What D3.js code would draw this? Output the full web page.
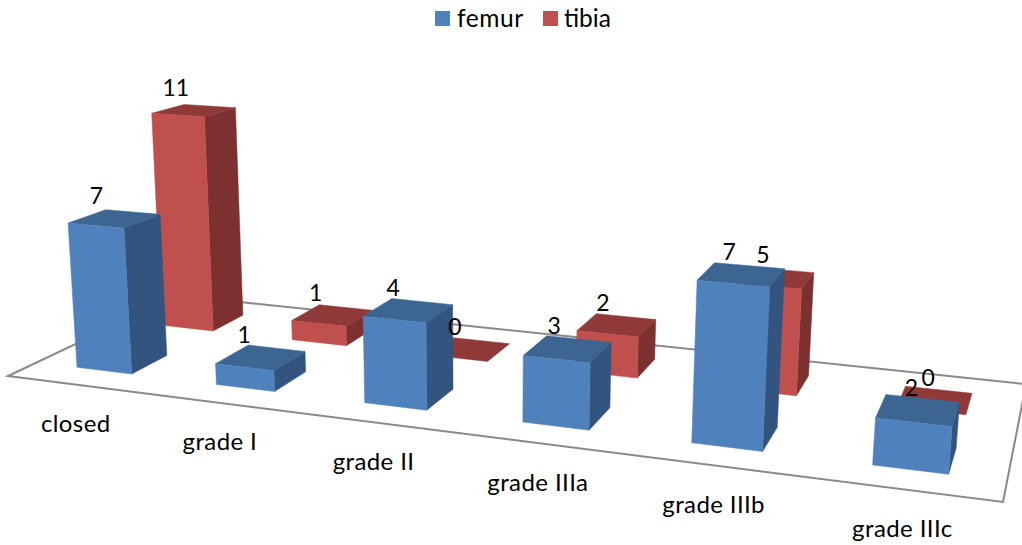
<!DOCTYPE html>
<html>
<head>
<meta charset="utf-8">
<style>
  html, body { margin: 0; padding: 0; background: #fff; }
  svg { display: block; }
  text { font-family: Lato, "Open Sans", sans-serif; fill: #000; }
</style>
<script src="https://cdn.jsdelivr.net/npm/d3@7"></script>
</head>
<body>
<svg id="chart" width="1022" height="545"></svg>
<script>
// Fracture counts by grade and bone
const categories = ["closed", "grade I", "grade II", "grade IIIa", "grade IIIb", "grade IIIc"];
const seriesNames = ["femur", "tibia"];
const femur = [7, 1, 4, 3, 7, 2];
const tibia = [11, 1, 0, 2, 5, 0];

const palette = {
  femur: { front: "#4f81bd", top: "#3d6592", side: "#32547e" },
  tibia: { front: "#c0504d", top: "#8f3a38", side: "#7c302f" }
};

// Floor quad on screen: front-left, front-right, back-right, back-left
const floor = [[8, 376], [1003, 502], [1026, 384.2], [178, 295.6]];
// Where vertical edges converge, and perspective weight per value unit
const verticalVanish = [480, 6900];
const perspectivePerUnit = 0.00314;

// Unit square to quad homography for the floor plane
function floorHomography(q) {
  const [[x0, y0], [x1, y1], [x2, y2], [x3, y3]] = q;
  const dx1 = x1 - x2, dx2 = x3 - x2, sx = x0 - x1 + x2 - x3;
  const dy1 = y1 - y2, dy2 = y3 - y2, sy = y0 - y1 + y2 - y3;
  const den = dx1 * dy2 - dx2 * dy1;
  const g = (sx * dy2 - dx2 * sy) / den;
  const h = (dx1 * sy - sx * dy1) / den;
  return {
    a: x1 - x0 + g * x1, b: x3 - x0 + h * x3, c: x0,
    d: y1 - y0 + g * y1, e: y3 - y0 + h * y3, f: y0,
    g, h
  };
}
const H = floorHomography(floor);

// Scales: along the floor, into the floor, and up from it
const uScale = d3.scaleBand().domain(categories).range([0, 1]).paddingInner(0.6).paddingOuter(0.3);
const vScale = d3.scaleBand().domain(seriesNames).range([0, 1]).paddingInner(0.59).paddingOuter(0.295);
const yScale = d3.scaleLinear().domain([0, 11]).range([0, 11 * perspectivePerUnit]);

function project(u, v, value) {
  const k = -yScale(value);
  const w = H.g * u + H.h * v + 1 + k;
  return [
    (H.a * u + H.b * v + H.c + k * verticalVanish[0]) / w,
    (H.d * u + H.e * v + H.f + k * verticalVanish[1]) / w
  ];
}

const svg = d3.select("#chart");
const polygon = d3.line().curve(d3.curveLinearClosed);

// Floor outline
svg.append("path")
  .attr("d", polygon([[0, 0], [1, 0], [1, 1], [0, 1]].map(([u, v]) => project(u, v, 0))))
  .attr("fill", "none")
  .attr("stroke", "#8a8a8a")
  .attr("stroke-width", 2);

const rows = [
  { name: "tibia", values: tibia },
  { name: "femur", values: femur }
];

const labelRows = [];
rows.forEach(row => {
  const colors = palette[row.name];
  const v0 = vScale(row.name), v1 = v0 + vScale.bandwidth();
  row.values.forEach((value, i) => {
    const cat = categories[i];
    const u0 = uScale(cat), u1 = u0 + uScale.bandwidth();
    const bar = svg.append("g").attr("class", `bar ${row.name}`);
    const face = (pts, fill) => bar.append("path")
      .attr("d", polygon(pts))
      .attr("fill", fill)
      .attr("stroke", fill)
      .attr("stroke-width", 0.5)
      .attr("stroke-linejoin", "round");
    if (value > 0) {
      face([project(u1, v0, 0), project(u1, v1, 0), project(u1, v1, value), project(u1, v0, value)], colors.side);
    }
    face([project(u0, v0, value), project(u1, v0, value), project(u1, v1, value), project(u0, v1, value)], colors.top);
    if (value > 0) {
      face([project(u0, v0, 0), project(u1, v0, 0), project(u1, v0, value), project(u0, v0, value)], colors.front);
    }
    const c = project((u0 + u1) / 2, (v0 + v1) / 2, value);
    const lastNudge = i === categories.length - 1 ? 4 : 0;
    labelRows.push({ value, x: c[0] - 19 + 9 * (u0 + u1) / 2 + lastNudge, y: c[1] - 23.5 });
  });
});

// Value labels sit above the middle of each bar's top face
svg.append("g").selectAll("text").data(labelRows).join("text")
  .attr("x", d => d.x)
  .attr("y", d => d.y)
  .attr("text-anchor", "middle")
  .attr("dominant-baseline", "central")
  .attr("font-size", 23)
  .text(d => d.value);

// Category labels hang below the floor's front edge
svg.append("g").selectAll("text").data(categories).join("text")
  .attr("x", d => project(uScale(d) + uScale.bandwidth() / 2, 0, 0)[0] - 1)
  .attr("y", d => project(uScale(d) + uScale.bandwidth() / 2, 0, 0)[1] + 38)
  .attr("text-anchor", "middle")
  .attr("dominant-baseline", "central")
  .attr("font-size", 24)
  .attr("letter-spacing", 0.4)
  .text(d => d);

// Legend
const legendX = d3.scaleOrdinal().domain(seriesNames).range([435, 543]);
const legend = svg.append("g").selectAll("g").data(seriesNames).join("g")
  .attr("transform", d => `translate(${legendX(d)},11)`);
legend.append("rect")
  .attr("width", 15).attr("height", 15)
  .attr("fill", d => palette[d].front);
legend.append("text")
  .attr("x", d => d === "femur" ? 22 : 21).attr("y", 15.5)
  .attr("font-size", 24.5)
  .attr("letter-spacing", d => d === "femur" ? 0.6 : 0)
  .text(d => d);
</script>
</body>
</html>
